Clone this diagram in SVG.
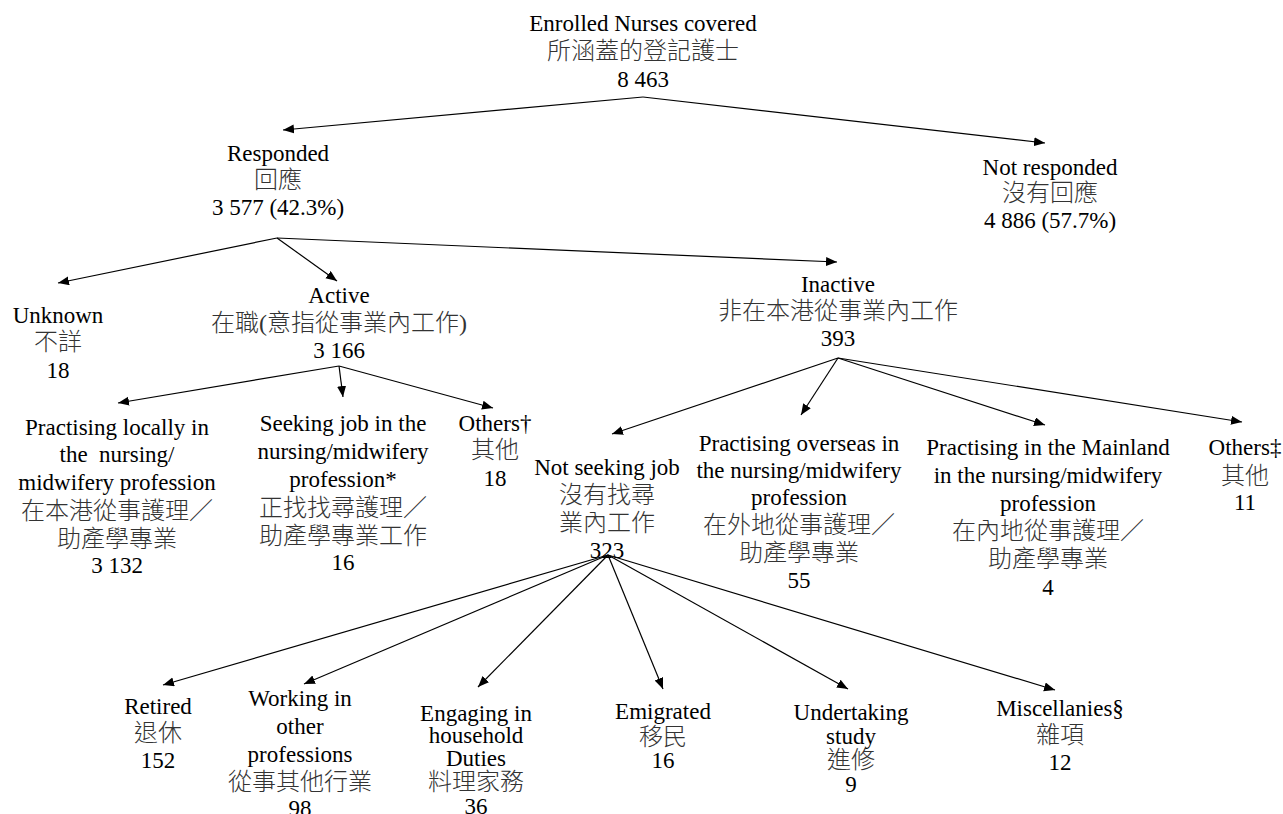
<svg xmlns="http://www.w3.org/2000/svg" width="1283" height="814" viewBox="0 0 1283 814">
<style>
text{font-family:"Liberation Serif","Noto Sans CJK TC",serif;text-anchor:middle;dominant-baseline:central;fill:#000}
.en{font-size:23px}
.zh{font-size:24px;fill:#333;font-weight:300}
.c line{stroke:#000;stroke-width:1.2;marker-end:url(#ah)}
</style>
<defs>
<marker id="ah" markerUnits="userSpaceOnUse" markerWidth="12" markerHeight="10" refX="11" refY="4.5" orient="auto">
<path d="M0,0 L11,4.5 L0,9 z" fill="#000"/>
</marker>
</defs>
<rect width="1283" height="814" fill="#fff"/>
<g class="c" id="connectors">
<line x1="643" y1="97" x2="283" y2="130"/>
<line x1="643" y1="97" x2="1045" y2="143"/>
<line x1="277" y1="238" x2="58" y2="283"/>
<line x1="277" y1="238" x2="337" y2="281"/>
<line x1="277" y1="238" x2="837" y2="262"/>
<line x1="339" y1="366" x2="118" y2="403"/>
<line x1="339" y1="366" x2="343" y2="397"/>
<line x1="339" y1="366" x2="493" y2="408"/>
<line x1="838" y1="358" x2="612" y2="434"/>
<line x1="838" y1="358" x2="801" y2="415"/>
<line x1="838" y1="358" x2="1045" y2="425"/>
<line x1="838" y1="358" x2="1242" y2="422"/>
<line x1="608" y1="555" x2="163" y2="685"/>
<line x1="608" y1="555" x2="304" y2="684"/>
<line x1="608" y1="555" x2="478" y2="687"/>
<line x1="608" y1="555" x2="663" y2="689"/>
<line x1="608" y1="555" x2="848" y2="689"/>
<line x1="608" y1="555" x2="1055" y2="690"/>
</g>
<g id="root">
<text class="en" x="643" y="23">Enrolled Nurses covered</text>
<text class="zh" x="643" y="51">所涵蓋的登記護士</text>
<text class="en" x="643" y="79">8 463</text>
</g>
<g id="responded">
<text class="en" x="278" y="153">Responded</text>
<text class="zh" x="278" y="180">回應</text>
<text class="en" x="278" y="207">3 577 (42.3%)</text>
</g>
<g id="not-responded">
<text class="en" x="1050" y="167">Not responded</text>
<text class="zh" x="1050" y="193">沒有回應</text>
<text class="en" x="1050" y="220">4 886 (57.7%)</text>
</g>
<g id="unknown">
<text class="en" x="58" y="315">Unknown</text>
<text class="zh" x="58" y="342">不詳</text>
<text class="en" x="58" y="370">18</text>
</g>
<g id="active">
<text class="en" x="339" y="295">Active</text>
<text class="zh" x="339" y="323">在職(意指從事業內工作)</text>
<text class="en" x="339" y="350">3 166</text>
</g>
<g id="inactive">
<text class="en" x="838" y="284">Inactive</text>
<text class="zh" x="838" y="311">非在本港從事業內工作</text>
<text class="en" x="838" y="338">393</text>
</g>
<g id="practising-locally">
<text class="en" x="117" y="427">Practising locally in</text>
<text class="en" x="117" y="454" xml:space="preserve">the  nursing/</text>
<text class="en" x="117" y="482">midwifery profession</text>
<text class="zh" x="117" y="511">在本港從事護理／</text>
<text class="zh" x="117" y="539">助產學專業</text>
<text class="en" x="117" y="565">3 132</text>
</g>
<g id="seeking-job">
<text class="en" x="343" y="423">Seeking job in the</text>
<text class="en" x="343" y="451">nursing/midwifery</text>
<text class="en" x="343" y="479">profession*</text>
<text class="zh" x="343" y="508">正找找尋護理／</text>
<text class="zh" x="343" y="536">助產學專業工作</text>
<text class="en" x="343" y="562">16</text>
</g>
<g id="others-active">
<text class="en" x="495" y="423">Others†</text>
<text class="zh" x="495" y="450">其他</text>
<text class="en" x="495" y="478">18</text>
</g>
<g id="not-seeking">
<text class="en" x="607" y="467">Not seeking job</text>
<text class="zh" x="607" y="495">沒有找尋</text>
<text class="zh" x="607" y="523">業內工作</text>
<text class="en" x="607" y="550">323</text>
</g>
<g id="practising-overseas">
<text class="en" x="799" y="443">Practising overseas in</text>
<text class="en" x="799" y="470">the nursing/midwifery</text>
<text class="en" x="799" y="497">profession</text>
<text class="zh" x="799" y="525">在外地從事護理／</text>
<text class="zh" x="799" y="553">助產學專業</text>
<text class="en" x="799" y="580">55</text>
</g>
<g id="practising-mainland">
<text class="en" x="1048" y="447">Practising in the Mainland</text>
<text class="en" x="1048" y="475">in the nursing/midwifery</text>
<text class="en" x="1048" y="503">profession</text>
<text class="zh" x="1048" y="531">在內地從事護理／</text>
<text class="zh" x="1048" y="559">助產學專業</text>
<text class="en" x="1048" y="587">4</text>
</g>
<g id="others-inactive">
<text class="en" x="1245" y="447">Others‡</text>
<text class="zh" x="1245" y="476">其他</text>
<text class="en" x="1245" y="502">11</text>
</g>
<g id="retired">
<text class="en" x="158" y="706">Retired</text>
<text class="zh" x="158" y="733">退休</text>
<text class="en" x="158" y="760">152</text>
</g>
<g id="working-other">
<text class="en" x="300" y="698">Working in</text>
<text class="en" x="300" y="726">other</text>
<text class="en" x="300" y="754">professions</text>
<text class="zh" x="300" y="782">從事其他行業</text>
<text class="en" x="300" y="808">98</text>
</g>
<g id="household">
<text class="en" x="476" y="713">Engaging in</text>
<text class="en" x="476" y="735">household</text>
<text class="en" x="476" y="758">Duties</text>
<text class="zh" x="476" y="782">料理家務</text>
<text class="en" x="476" y="806">36</text>
</g>
<g id="emigrated">
<text class="en" x="663" y="711">Emigrated</text>
<text class="zh" x="663" y="737">移民</text>
<text class="en" x="663" y="760">16</text>
</g>
<g id="study">
<text class="en" x="851" y="712">Undertaking</text>
<text class="en" x="851" y="736">study</text>
<text class="zh" x="851" y="760">進修</text>
<text class="en" x="851" y="784">9</text>
</g>
<g id="miscellanies">
<text class="en" x="1060" y="708">Miscellanies§</text>
<text class="zh" x="1060" y="735">雜項</text>
<text class="en" x="1060" y="762">12</text>
</g>
</svg>
